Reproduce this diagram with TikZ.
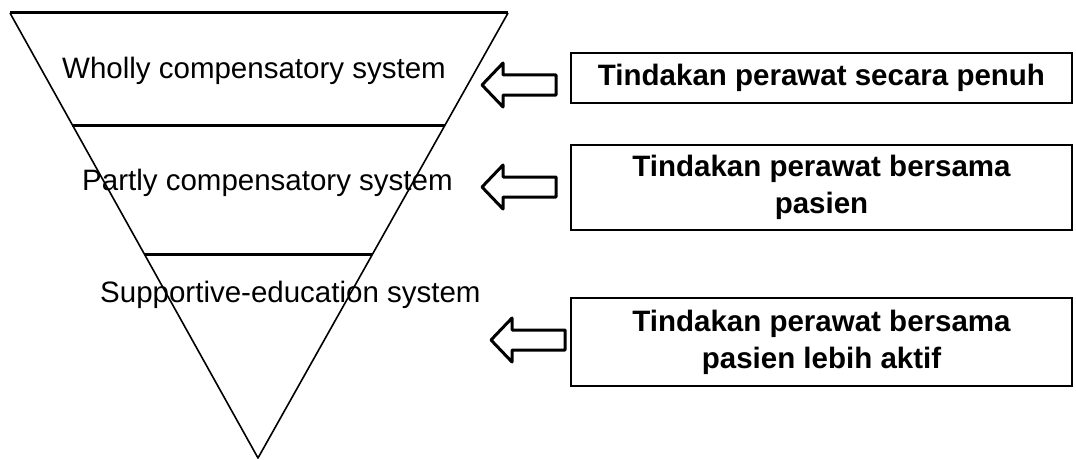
\documentclass[tikz,border=0pt]{standalone}
\usepackage{fontspec}
\setmainfont{Liberation Sans}
\usetikzlibrary{calc}
\begin{document}
\begin{tikzpicture}[x=1pt,y=-1pt,
  edge/.style={line width=1.6pt,line join=round},
  divider/.style={line width=3pt},
  lbl/.style={anchor=base west,inner sep=0pt,font=\fontsize{29.5}{34}\selectfont},
  box/.style={draw,line width=2pt,minimum width=501pt,align=center,inner sep=0pt,
    font=\fontsize{29.5}{37}\selectfont\bfseries},
  hollowarrow/.pic={\draw[line width=3pt,line join=round]
      (0,0) -- (21,-22) -- (21,-10) -- (74,-10) -- (74,10) -- (21,10) -- (21,22) -- cycle;}]
\useasboundingbox (0,0) rectangle (1076,460);
% funnel
\coordinate (tl) at (10,13);
\coordinate (tr) at (508,13);
\coordinate (ap) at (258,458);
\coordinate (d1l) at ($(tl)!0.2517!(ap)$);
\coordinate (d1r) at ($(tr)!0.2517!(ap)$);
\coordinate (d2l) at ($(tl)!0.5438!(ap)$);
\coordinate (d2r) at ($(tr)!0.5438!(ap)$);
\node[lbl] (t1) at (62,78) {Wholly compensatory system};
\node[lbl] (t2) at (82,190) {Partly compensatory system};
\node[lbl] (t3) at (100,302) {Supportive-education system};
\draw[edge] (tl) -- (ap) -- (tr);
\draw[divider] (tl) -- (tr);
\draw[divider] (d1l) -- (d1r);
\draw[divider] (d2l) -- (d2r);
% boxes
\node[box,minimum height=50pt] (b1) at (821.5,78) {Tindakan perawat secara penuh};
\node[box,minimum height=85pt] (b2) at (821.5,187.5) {Tindakan perawat bersama\\pasien};
\node[box,minimum height=88pt] (b3) at (821.5,342) {Tindakan perawat bersama\\pasien lebih aktif};
% arrows
\pic at (482,85) {hollowarrow};
\pic at (482,187) {hollowarrow};
\pic at (491,340) {hollowarrow};
\end{tikzpicture}
\end{document}
